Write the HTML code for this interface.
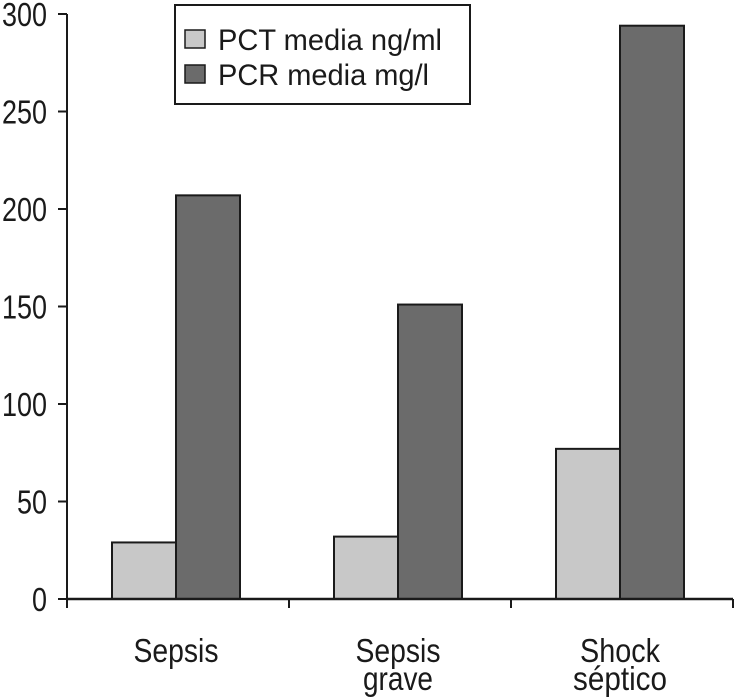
<!DOCTYPE html>
<html><head><meta charset="utf-8"><style>
html,body{margin:0;padding:0;background:#fff;}
svg{display:block;font-family:"Liberation Sans",sans-serif;}
</style></head><body>
<svg id="chart" width="734" height="697" viewBox="0 0 734 697" xmlns="http://www.w3.org/2000/svg"></svg>
<script>
const categories = [["Sepsis"], ["Sepsis","grave"], ["Shock","séptico"]];
const pctValues = [29, 32, 77];
const pcrValues = [207, 151, 294];
const yTicks = [0, 50, 100, 150, 200, 250, 300];
const seriesNames = ["PCT media ng/ml", "PCR media mg/l"];

const NS = "http://www.w3.org/2000/svg";
const svg = document.getElementById("chart");
const labelWidths = {"Sepsis": 85, "grave": 70, "Shock": 80, "séptico": 94};
const x0 = 67, x1 = 733, yBase = 599, yTop = 14, yMax = 300;
const bandW = (x1 - x0) / categories.length;
const barW = 64;
function yScale(v){ return yBase - (v / yMax) * (yBase - yTop); }
function bandCenter(i){ return x0 + bandW * (i + 0.5) - 2; }
function mk(tag, attrs){ const e = document.createElementNS(NS, tag); for (const k in attrs) e.setAttribute(k, attrs[k]); svg.appendChild(e); return e; }

const colors = ["#c8c8c8", "#6b6b6b"];
[pctValues, pcrValues].forEach((vals, s) => {
  vals.forEach((v, i) => {
    const c = bandCenter(i);
    const x = s === 0 ? c - barW : c;
    const r = mk("rect", {x: x, y: yScale(v), width: barW, height: yBase - yScale(v), fill: colors[s], stroke: "#1a1a1a", "stroke-width": 2});
    
    
  });
});

const ya = mk("line", {x1: x0, y1: yTop, x2: x0, y2: yBase + 8, stroke: "#1a1a1a", "stroke-width": 2});


yTicks.forEach(t => {
  const y = yScale(t);
  const tk = mk("line", {x1: x0 - 9, y1: y, x2: x0, y2: y, stroke: "#1a1a1a", "stroke-width": 2});
  
  
  const s = String(t);
  const tx = mk("text", {x: 47, y: y + 12, "text-anchor": "end", "font-size": 33, fill: "#1a1a1a", textLength: s.length * 15, lengthAdjust: "spacingAndGlyphs"});
  tx.textContent = s;
  
  
});

const xa = mk("line", {x1: x0, y1: yBase, x2: x1, y2: yBase, stroke: "#1a1a1a", "stroke-width": 2.5});


for (let i = 0; i <= categories.length; i++) {
  const x = x0 + bandW * i;
  const tk = mk("line", {x1: x, y1: yBase, x2: x, y2: yBase + 9, stroke: "#1a1a1a", "stroke-width": 2});
  
  
}
categories.forEach((lines, i) => {
  lines.forEach((ln, j) => {
    const w = labelWidths[ln] || ln.length * 14;
    const tx = mk("text", {x: bandCenter(i), y: 662 + j * 28, "text-anchor": "middle", "font-size": 33, fill: "#1a1a1a", textLength: w, lengthAdjust: "spacingAndGlyphs"});
    tx.textContent = ln;
    
    
  });
});

const lb = mk("rect", {x: 175, y: 5, width: 295, height: 99, fill: "#fff", stroke: "#1a1a1a", "stroke-width": 2});


seriesNames.forEach((n, s) => {
  const y = 30 + s * 35;
  const sw = mk("rect", {x: 185, y: y, width: 20, height: 18, fill: colors[s], stroke: "#1a1a1a", "stroke-width": 1.5});
  
  
  const tx = mk("text", {x: 218, y: y + 20, "font-size": 30, fill: "#1a1a1a", textLength: s === 0 ? 224 : 211, lengthAdjust: "spacingAndGlyphs"});
  tx.textContent = n;
  
  
});
</script>
</body></html>
